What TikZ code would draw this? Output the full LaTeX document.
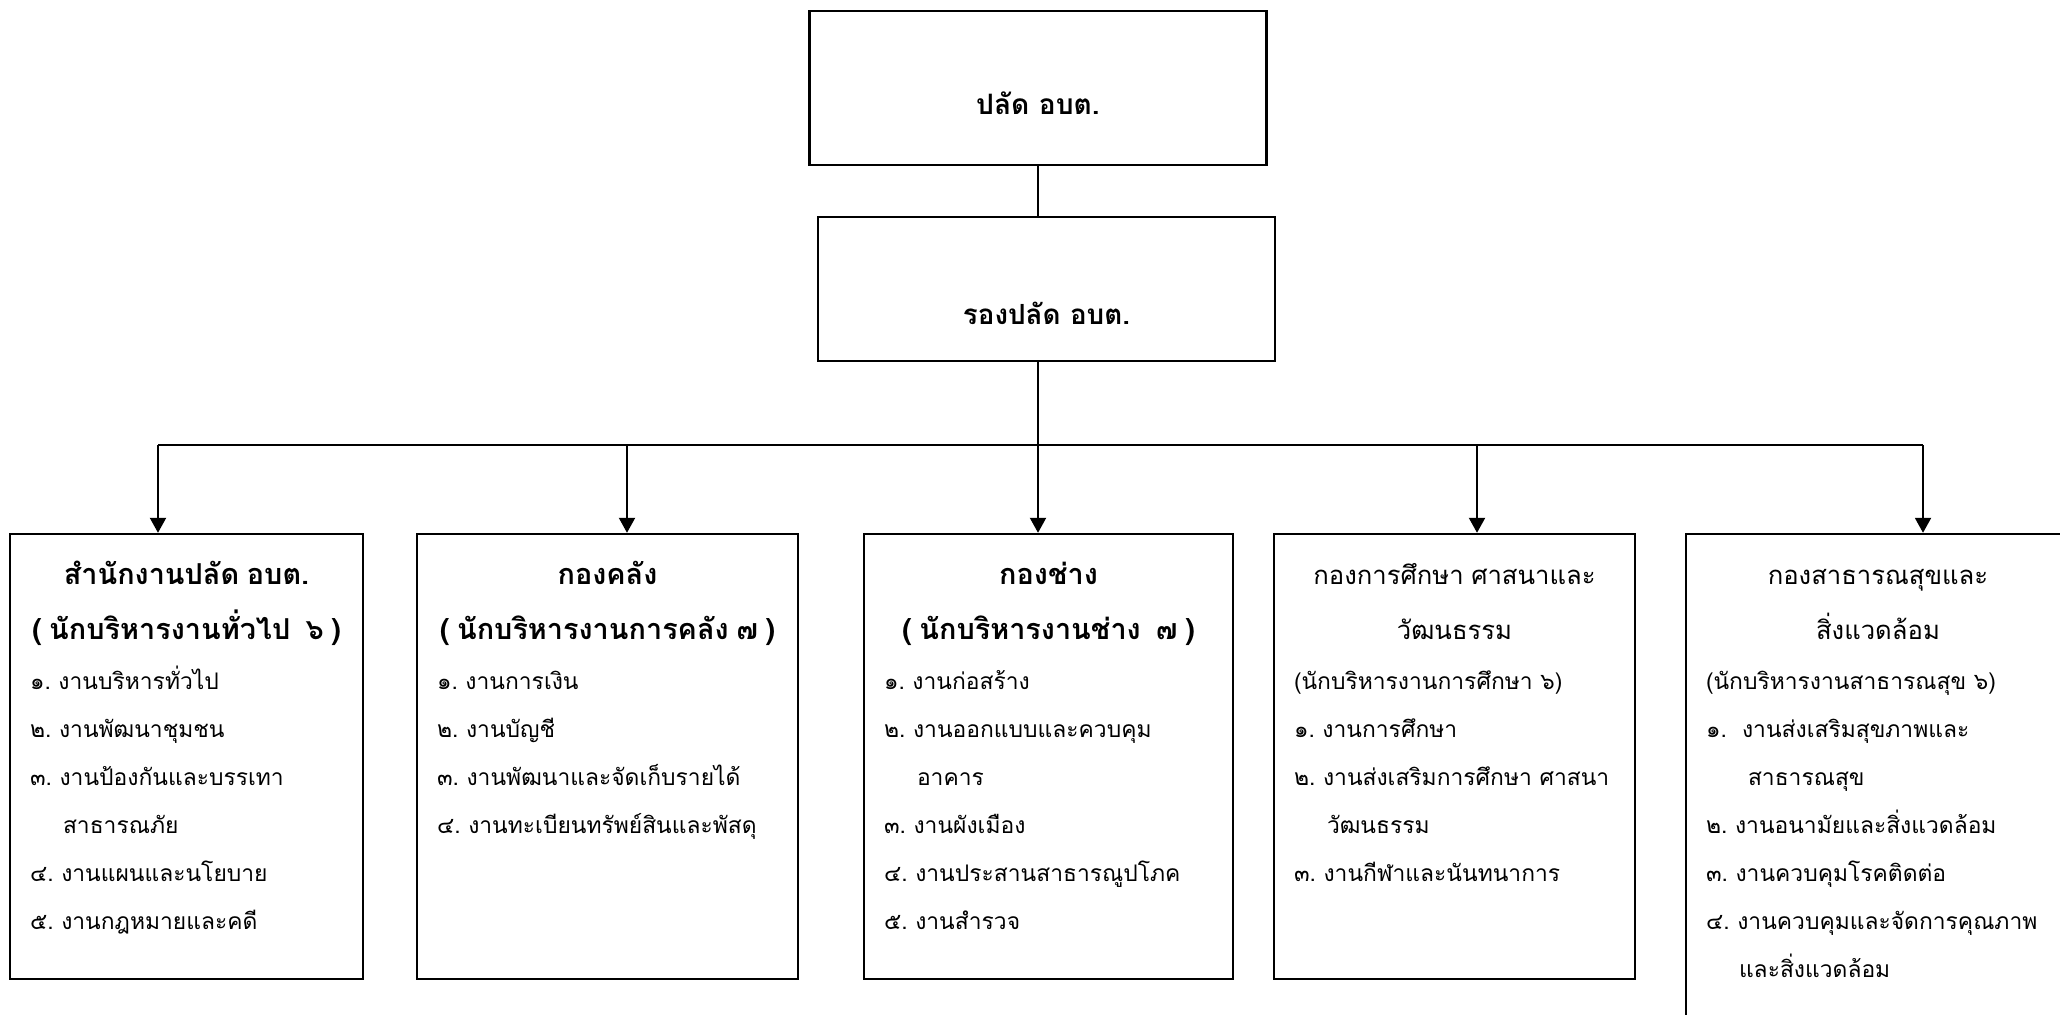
\documentclass[tikz,border=0pt]{standalone}
\usepackage{fontspec}
\newfontfamily\thai[Script=Thai]{Loma}
\usetikzlibrary{arrows.meta,positioning}

\newcommand{\boldhead}{\thai\fontsize{8.2}{5.5mm}\selectfont\bfseries}
\newcommand{\plainhead}{\thai\fontsize{7.3}{5.5mm}\selectfont}
\newcommand{\listfont}{\thai\fontsize{6.5}{4.8mm}\selectfont}
\newcommand{\cont}{\hspace*{3.3mm}}

\begin{document}
\begin{tikzpicture}[x=0.1mm, y=-0.1mm, line width=0.6pt,
  block/.style={rectangle, draw, line width=0.7pt, inner sep=0pt, minimum width=45.7mm},
  dept/.style={rectangle, draw, line width=0.7pt, inner ysep=0pt, inner xsep=2mm,
    text height=5mm, text depth=39.5mm, font=\listfont},
  drop/.style={-{Triangle[length=1.5mm, width=1.6mm]}}]

  \useasboundingbox (0,0) rectangle (2060,1014);
  \clip (0,0) rectangle (2060,1014);

  % top of the chart
  \node[block, minimum height=15.4mm, text height=10.3mm, text depth=5.1mm, font=\thai\fontsize{8}{10}\selectfont\bfseries] (top) at (1038,88) {ปลัด อบต.};
  \node[block, below of=top, node distance=20.1mm, xshift=0.85mm, minimum height=14.4mm, text height=10.7mm, text depth=3.7mm, font=\thai\fontsize{7.9}{10}\selectfont\bfseries] (sub) {รองปลัด อบต.};

  % divisions
  \node[dept, text width=31.3mm] (b1) at (186.5,756.5) {%
    {\boldhead\centering สำนักงานปลัด~อบต.\\(~นักบริหารงานทั่วไป~~๖~)\par}\vspace{0.2mm}
    ๑.~งานบริหารทั่วไป\\
    ๒.~งานพัฒนาชุมชน\\
    ๓.~งานป้องกันและบรรเทา\\
    \cont สาธารณภัย\\
    ๔.~งานแผนและนโยบาย\\
    ๕.~งานกฎหมายและคดี};
  \node[dept, text width=34.1mm, right of=b1, node distance=42.1mm] (b2) {%
    {\boldhead\centering กองคลัง\\(~นักบริหารงานการคลัง~๗~)\par}\vspace{0.2mm}
    ๑.~งานการเงิน\\
    ๒.~งานบัญชี\\
    ๓.~งานพัฒนาและจัดเก็บรายได้\\
    ๔.~งานทะเบียนทรัพย์สินและพัสดุ};
  \node[dept, text width=32.9mm, right of=b2, node distance=44.1mm] (b3) {%
    {\boldhead\centering กองช่าง\\(~นักบริหารงานช่าง~~๗~)\par}\vspace{0.2mm}
    ๑.~งานก่อสร้าง\\
    ๒.~งานออกแบบและควบคุม\\
    \cont อาคาร\\
    ๓.~งานผังเมือง\\
    ๔.~งานประสานสาธารณูปโภค\\
    ๕.~งานสำรวจ};
  \node[dept, text width=32.1mm, right of=b3, node distance=40.6mm] (b4) {%
    {\plainhead\centering กองการศึกษา~ศาสนาและ\\วัฒนธรรม\par}\vspace{0.2mm}
    (นักบริหารงานการศึกษา~๖)\\
    ๑.~งานการศึกษา\\
    ๒.~งานส่งเสริมการศึกษา~ศาสนา\\
    \cont วัฒนธรรม\\
    ๓.~งานกีฬาและนันทนาการ};
  \node[dept, text width=34.4mm, text depth=47.6mm, right of=b4, node distance=42.35mm, yshift=-4.05mm] (b5) {%
    {\plainhead\centering กองสาธารณสุขและ\\สิ่งแวดล้อม\par}\vspace{0.2mm}
    (นักบริหารงานสาธารณสุข~๖)\\
    ๑.~~งานส่งเสริมสุขภาพและ\\
    \hspace*{4.2mm}สาธารณสุข\\
    ๒.~งานอนามัยและสิ่งแวดล้อม\\
    ๓.~งานควบคุมโรคติดต่อ\\
    ๔.~งานควบคุมและจัดการคุณภาพ\\
    \cont และสิ่งแวดล้อม};

  \coordinate (d1) at (158,445);
  \coordinate (d2) at (627,445);
  \coordinate (d4) at (1477,445);
  \coordinate (d5) at (1923,445);

  \draw (top.south) -- (top.south |- sub.north);
  \draw[drop] (top.south |- sub.south) -- (top.south |- b3.north);
  \draw (d1) -- (d5);
  \foreach \i in {1,2,4,5}
    \draw[drop] (d\i) -- (d\i |- b\i.north);
\end{tikzpicture}
\end{document}
